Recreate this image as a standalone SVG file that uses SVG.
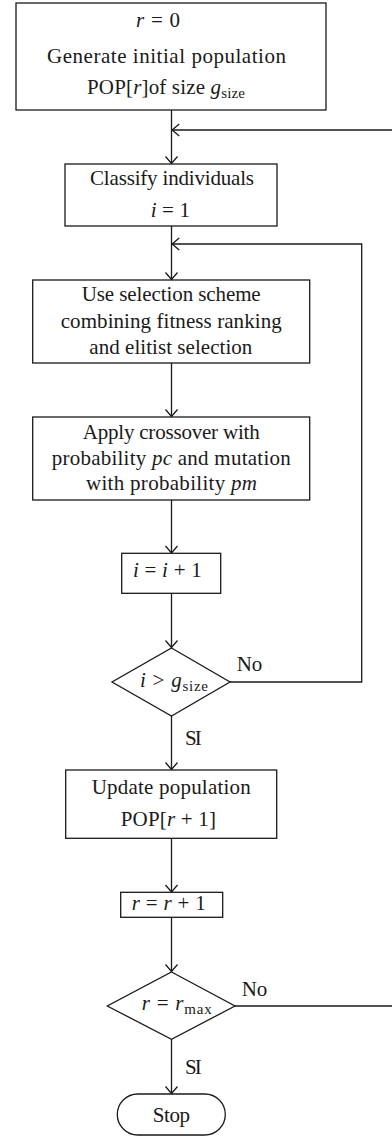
<svg xmlns="http://www.w3.org/2000/svg" width="392" height="1136" viewBox="0 0 392 1136">
<defs>
<style>
.box{fill:#fff;stroke:#1a1a1a;stroke-width:1.3}
.ln{fill:none;stroke:#1a1a1a;stroke-width:1.3}
text{font-family:"Liberation Serif","Times New Roman",serif;font-size:21px;fill:#1a1a1a}
.it{font-style:italic}
.sub{font-size:15px}
</style>
<marker id="arr" markerUnits="userSpaceOnUse" markerWidth="16" markerHeight="16" viewBox="-9 -8 10 16" refX="0" refY="0" orient="auto">
<path d="M-7,-6 L0,0 L-7,6" fill="none" stroke="#1a1a1a" stroke-width="1.3"/>
</marker>
</defs>
<rect width="392" height="1136" fill="#fff"/>
<g id="connectors">
<line class="ln" x1="171.5" y1="110" x2="171.5" y2="163.5" marker-end="url(#arr)"/>
<line class="ln" x1="392" y1="130" x2="172.2" y2="130" marker-end="url(#arr)"/>
<line class="ln" x1="171.5" y1="226" x2="171.5" y2="279.5" marker-end="url(#arr)"/>
<polyline class="ln" points="230,682 361.7,682 361.7,244 172.2,244" marker-end="url(#arr)"/>
<line class="ln" x1="171.5" y1="363" x2="171.5" y2="416.5" marker-end="url(#arr)"/>
<line class="ln" x1="171.5" y1="500" x2="171.5" y2="553" marker-end="url(#arr)"/>
<line class="ln" x1="171.5" y1="593" x2="171.5" y2="647.5" marker-end="url(#arr)"/>
<line class="ln" x1="171.5" y1="716" x2="171.5" y2="769.5" marker-end="url(#arr)"/>
<line class="ln" x1="171.5" y1="838" x2="171.5" y2="892" marker-end="url(#arr)"/>
<line class="ln" x1="171.5" y1="917" x2="171.5" y2="971.5" marker-end="url(#arr)"/>
<line class="ln" x1="235" y1="1006" x2="392" y2="1006"/>
<line class="ln" x1="171.5" y1="1039" x2="171.5" y2="1093.5" marker-end="url(#arr)"/>
<text x="236.7" y="670.7" textLength="25.6" lengthAdjust="spacing">No</text>
<text x="185" y="745" textLength="16.7" lengthAdjust="spacing">SI</text>
<text x="241.7" y="996" textLength="25.6" lengthAdjust="spacing">No</text>
<text x="185" y="1074" textLength="16.7" lengthAdjust="spacing">SI</text>
</g>
<g id="init">
<rect class="box" x="16" y="3" width="310" height="107"/>
<text x="136" y="27.3" textLength="44" lengthAdjust="spacing"><tspan class="it">r</tspan> = 0</text>
<text x="47" y="62.7" textLength="239" lengthAdjust="spacing">Generate initial population</text>
<text x="87" y="94" textLength="158" lengthAdjust="spacing">POP[<tspan class="it">r</tspan>]of size <tspan class="it">g</tspan><tspan class="sub" dy="4">size</tspan></text>
</g>
<g id="classify">
<rect class="box" x="65" y="164" width="212" height="62"/>
<text x="90" y="185.3" textLength="164" lengthAdjust="spacing">Classify individuals</text>
<text x="150.7" y="216.7" textLength="39.3" lengthAdjust="spacing"><tspan class="it">i</tspan> = 1</text>
</g>
<g id="selection">
<rect class="box" x="32.7" y="280" width="277" height="83"/>
<text x="81.7" y="300.7" textLength="179" lengthAdjust="spacing">Use selection scheme</text>
<text x="60.7" y="327.7" textLength="221" lengthAdjust="spacing">combining fitness ranking</text>
<text x="89.3" y="354" textLength="163" lengthAdjust="spacing">and elitist selection</text>
</g>
<g id="crossover">
<rect class="box" x="32.7" y="417" width="277" height="83"/>
<text x="82.7" y="439.3" textLength="177" lengthAdjust="spacing">Apply crossover with</text>
<text x="51.7" y="465" textLength="239" lengthAdjust="spacing">probability <tspan class="it">pc</tspan> and mutation</text>
<text x="86" y="490" textLength="171" lengthAdjust="spacing">with probability <tspan class="it">pm</tspan></text>
</g>
<g id="increment-i">
<rect class="box" x="121.7" y="553.3" width="99" height="40"/>
<text x="133" y="577" textLength="68.7" lengthAdjust="spacing"><tspan class="it">i</tspan> = <tspan class="it">i</tspan> + 1</text>
</g>
<g id="decision-i">
<polygon class="box" points="171.5,648 230,682 171.5,716 112,682"/>
<text x="140" y="687.3" textLength="68" lengthAdjust="spacing"><tspan class="it">i</tspan> &gt; <tspan class="it">g</tspan><tspan class="sub" dy="4">size</tspan></text>
</g>
<g id="update">
<rect class="box" x="65.7" y="770" width="211" height="68.3"/>
<text x="91.7" y="794.3" textLength="159" lengthAdjust="spacing">Update population</text>
<text x="120.7" y="826" textLength="95.3" lengthAdjust="spacing">POP[<tspan class="it">r</tspan> + 1]</text>
</g>
<g id="increment-r">
<rect class="box" x="120.7" y="892.3" width="102" height="25"/>
<text x="131.7" y="910" textLength="74" lengthAdjust="spacing"><tspan class="it">r</tspan> = <tspan class="it">r</tspan> + 1</text>
</g>
<g id="decision-r">
<polygon class="box" points="171.5,972 235,1006 171.5,1039.3 107.3,1006"/>
<text x="141.7" y="1010" textLength="70" lengthAdjust="spacing"><tspan class="it">r</tspan> = <tspan class="it">r</tspan><tspan class="sub" dy="4">max</tspan></text>
</g>
<g id="stop">
<rect class="box" x="117.3" y="1094" width="108" height="41" rx="20.5" ry="20.5"/>
<text x="152.7" y="1121.7" textLength="37.3" lengthAdjust="spacing">Stop</text>
</g>
</svg>
